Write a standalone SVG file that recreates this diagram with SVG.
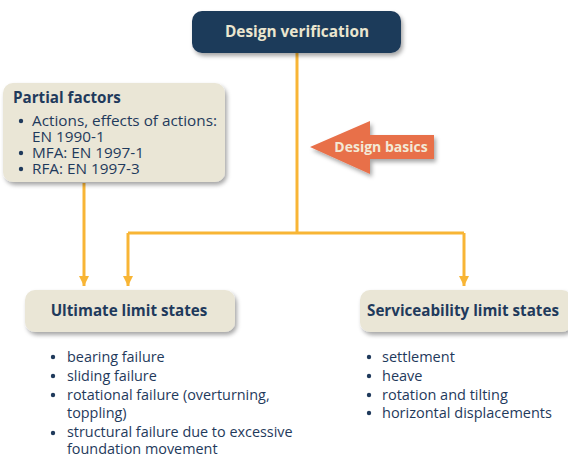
<svg xmlns="http://www.w3.org/2000/svg" width="568" height="457" viewBox="0 0 568 457">
<style>
.t{font-family:"Open Sans","Noto Sans","Liberation Sans",sans-serif;fill:#1f3a5c}
.b{font-weight:bold}
.box{fill:#eae6d6}
.ln{fill:none;stroke:#f8b535;stroke-width:3}
.dot{fill:#1f3a5c}
</style>
<defs>
<filter id="sh" x="-10%" y="-20%" width="125%" height="150%">
<feDropShadow dx="2" dy="3" stdDeviation="2" flood-color="#000" flood-opacity="0.35"/>
</filter>
<marker id="ah" markerWidth="12" markerHeight="10" refX="10" refY="5" orient="auto" markerUnits="userSpaceOnUse">
<path d="M0,0 L10,5 L0,10 Z" fill="#f8b535"/>
</marker>
</defs>
<g id="connectors">
<path class="ln" d="M297,53 V233"/>
<path class="ln" d="M128,233 H464"/>
<path class="ln" d="M128,233 V286" marker-end="url(#ah)"/>
<path class="ln" d="M464,233 V286" marker-end="url(#ah)"/>
<path class="ln" d="M84,183 V286" marker-end="url(#ah)"/>
</g>
<g id="design-verification">
<rect x="192" y="11" width="209" height="42" rx="10" fill="#1f3a5a" filter="url(#sh)"/>
<text class="t b" x="297" y="37" font-size="15.4" text-anchor="middle" style="fill:#ebe6cf">Design verification</text>
</g>
<g id="partial-factors">
<rect class="box" x="3" y="83" width="222" height="99" rx="10" filter="url(#sh)"/>
<text class="t b" x="13" y="103" font-size="15.2">Partial factors</text>
<circle class="dot" cx="21" cy="121" r="2.2"/>
<circle class="dot" cx="21" cy="153" r="2.2"/>
<circle class="dot" cx="21" cy="169" r="2.2"/>
<text class="t" font-size="15.3"><tspan x="32" y="126">Actions, effects of actions:</tspan><tspan x="32" y="142">EN 1990-1</tspan><tspan x="32" y="158">MFA: EN 1997-1</tspan><tspan x="32" y="174">RFA: EN 1997-3</tspan></text>
</g>
<g id="design-basics">
<path d="M310,147 L370,121 V135 H434 V159 H370 V174 Z" fill="#e8704a" filter="url(#sh)"/>
<text class="t b" x="381" y="152" font-size="14" text-anchor="middle" style="fill:#f3e9d6">Design basics</text>
</g>
<g id="ultimate-limit-states">
<rect class="box" x="25" y="290" width="210" height="42" rx="10" filter="url(#sh)"/>
<text class="t b" x="129" y="316" font-size="15.2" text-anchor="middle">Ultimate limit states</text>
</g>
<g id="serviceability-limit-states">
<rect class="box" x="360" y="290" width="212" height="42" rx="10" filter="url(#sh)"/>
<text class="t b" x="463" y="316" font-size="15.2" text-anchor="middle">Serviceability limit states</text>
</g>
<g id="uls-list">
<circle class="dot" cx="53" cy="357" r="2.2"/>
<circle class="dot" cx="53" cy="376" r="2.2"/>
<circle class="dot" cx="53" cy="395" r="2.2"/>
<circle class="dot" cx="53" cy="433" r="2.2"/>
<text class="t" font-size="14.4"><tspan x="67" y="362">bearing failure</tspan><tspan x="67" y="381">sliding failure</tspan><tspan x="67" y="400">rotational failure (overturning,</tspan><tspan x="67" y="418">toppling)</tspan><tspan x="67" y="437">structural failure due to excessive</tspan><tspan x="67" y="454">foundation movement</tspan></text>
</g>
<g id="sls-list">
<circle class="dot" cx="369" cy="357" r="2.2"/>
<circle class="dot" cx="369" cy="376" r="2.2"/>
<circle class="dot" cx="369" cy="395" r="2.2"/>
<circle class="dot" cx="369" cy="413" r="2.2"/>
<text class="t" font-size="14.5"><tspan x="382" y="362">settlement</tspan><tspan x="382" y="381">heave</tspan><tspan x="382" y="400">rotation and tilting</tspan><tspan x="382" y="418">horizontal displacements</tspan></text>
</g>
</svg>
